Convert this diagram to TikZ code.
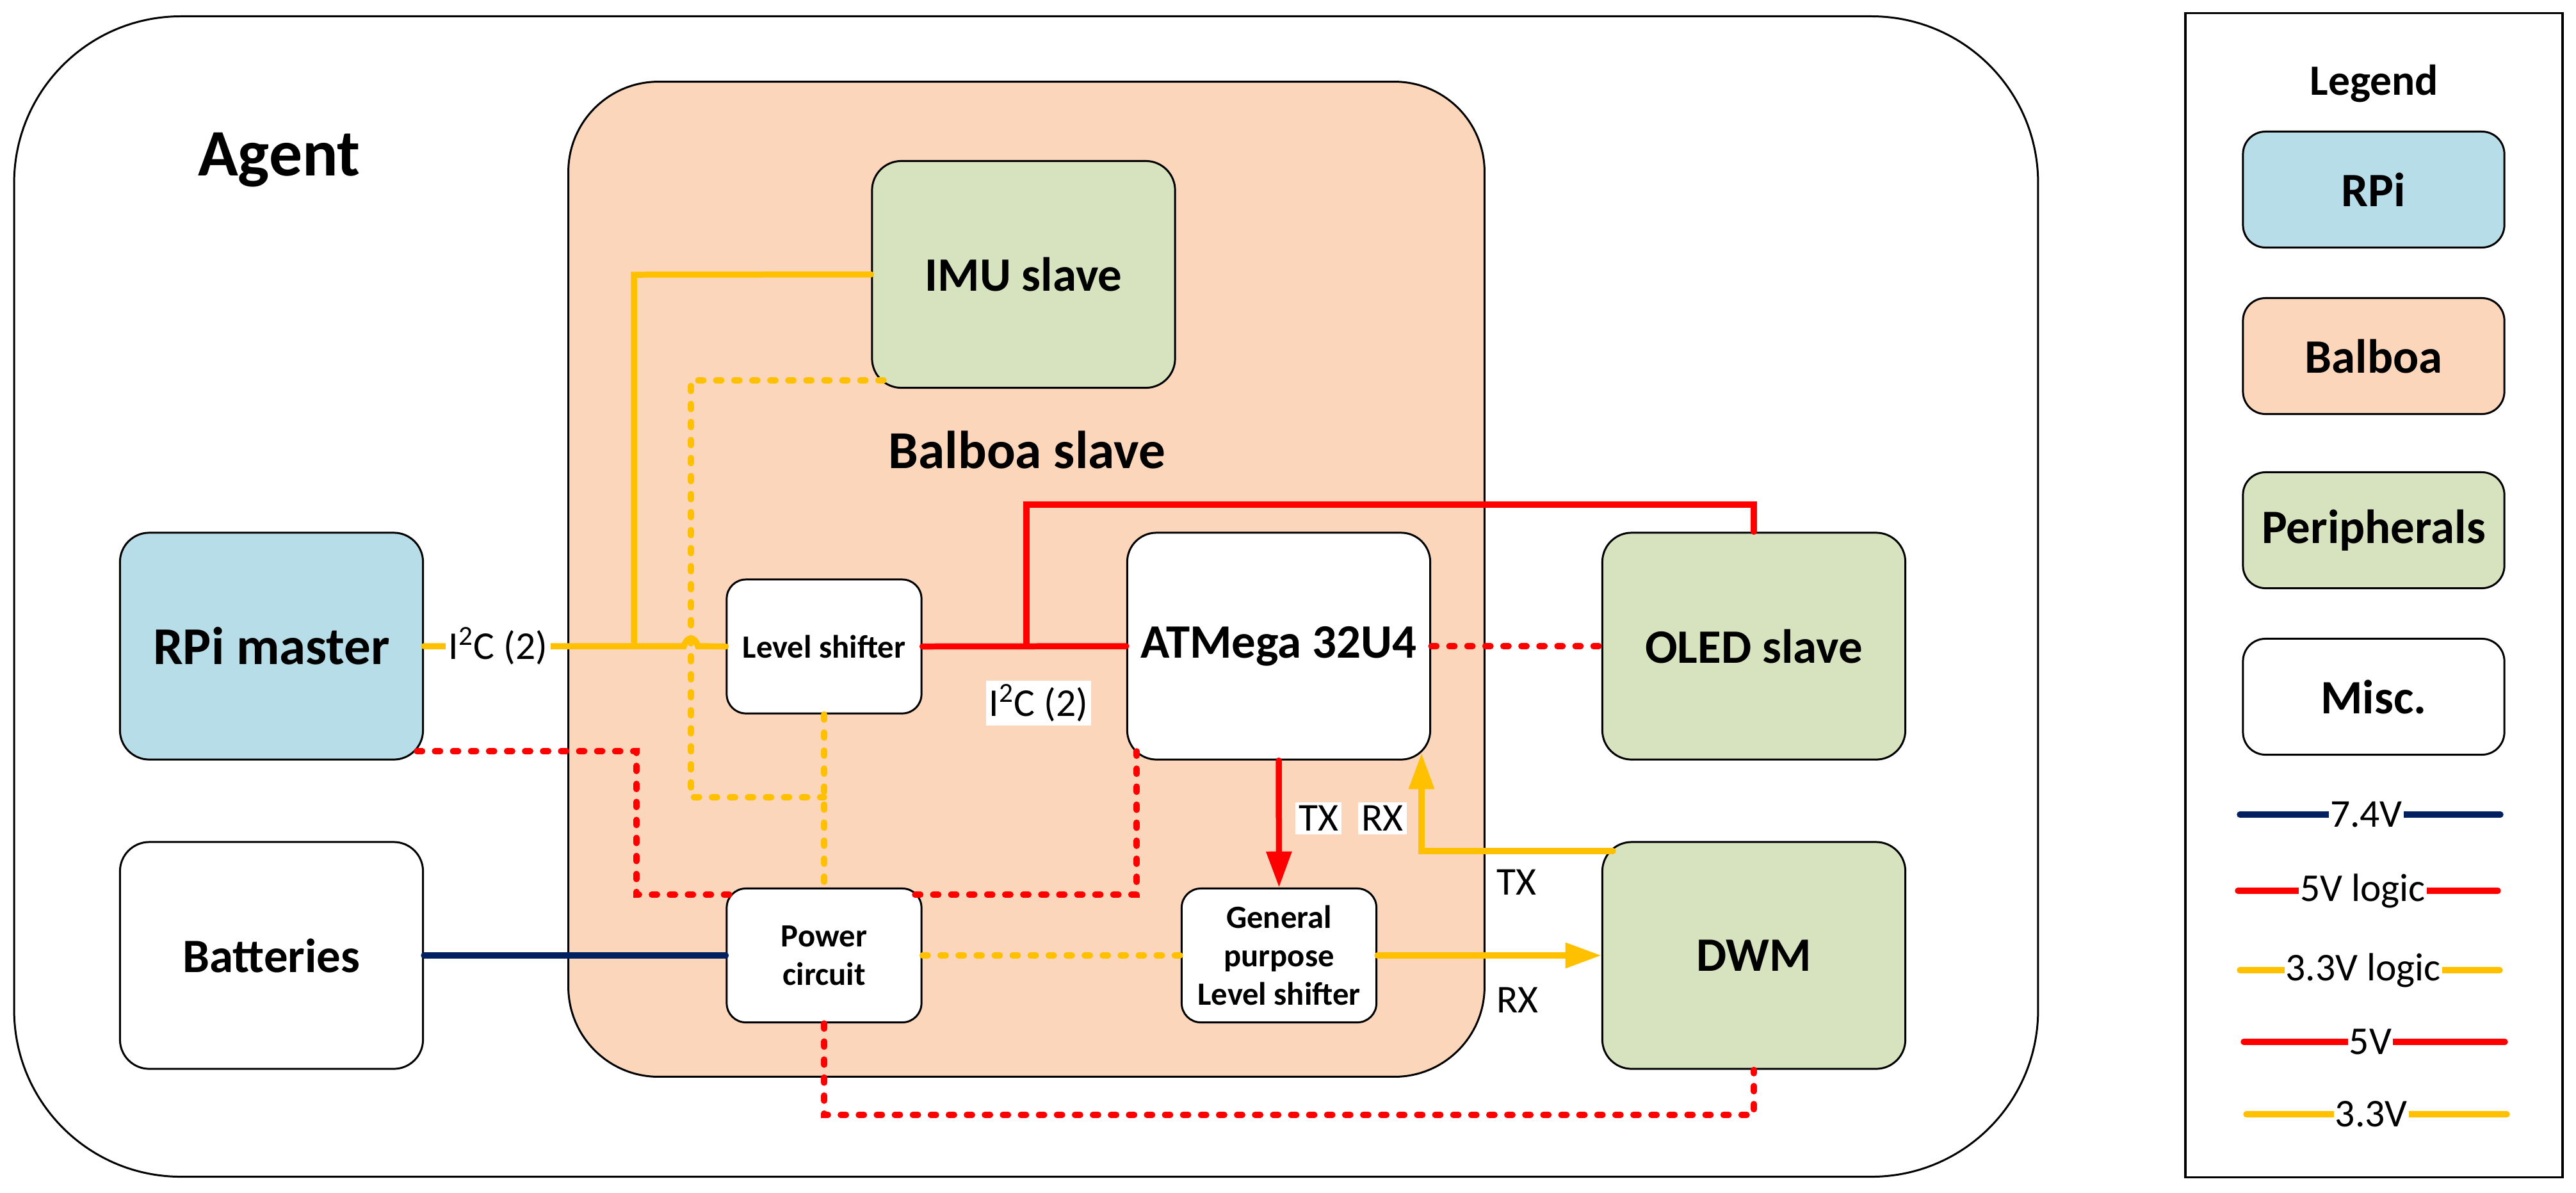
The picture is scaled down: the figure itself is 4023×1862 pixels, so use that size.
\documentclass[tikz,border=0pt]{standalone}
\usepackage{fontspec}
\setmainfont{Carlito}
\usetikzlibrary{arrows.meta}
\definecolor{rpiblue}{HTML}{B7DDE8}
\definecolor{balboaorange}{HTML}{FBD6BA}
\definecolor{periphgreen}{HTML}{D7E3BF}
\definecolor{gold33}{HTML}{FFC000}
\definecolor{red5}{HTML}{FF0000}
\definecolor{navy74}{HTML}{002060}
\tikzset{
  bigbox/.style   ={draw=black, line width=0.85pt, inner sep=0pt, minimum width=4.73cm, minimum height=3.54cm,
                    rounded corners=13pt, align=center, font=\fontsize{21.3}{25}\selectfont\bfseries},
  smallbox/.style ={draw=black, line width=0.85pt, fill=white, inner sep=0pt, minimum width=3.04cm, minimum height=2.09cm,
                    rounded corners=8.5pt, align=center, font=\fontsize{14.4}{17}\selectfont\bfseries},
  legendbox/.style={draw=black, line width=0.85pt, inner sep=0pt, minimum width=4.08cm, minimum height=1.81cm,
                    rounded corners=10pt, font=\fontsize{21.3}{25}\selectfont\bfseries},
  wiretext/.style ={fill=white, inner sep=1.5pt, font=\fontsize{17.5}{20}\selectfont},
  plaintext/.style={inner sep=0pt, font=\fontsize{17.5}{20}\selectfont},
  solid5/.style   ={draw=red5, line width=2.7pt, line cap=round},
  solid33/.style  ={draw=gold33, line width=2.7pt, line cap=round},
  solid74/.style  ={draw=navy74, line width=2.7pt, line cap=round},
  logic5/.style   ={solid5, dash pattern=on 2.4pt off 5.6pt},
  logic33/.style  ={solid33, dash pattern=on 2.4pt off 5.6pt},
  tipped/.style   ={-{Triangle[length=16pt,width=10.8pt]}}
}
\begin{document}
\begin{tikzpicture}[x=0.01cm, y=-0.01cm]
        \useasboundingbox (0,0) rectangle (4023,1862);
        % frames
        \node [draw=black, line width=0.85pt, minimum width=31.59cm, minimum height=18.11cm, rounded corners=74pt] (agent)  at (1602.5,931.5) {};
        \node [draw=black, line width=0.85pt, fill=balboaorange, minimum width=14.30cm, minimum height=15.53cm, rounded corners=40pt] (balboa) at (1603,904.5) {};
        \node [draw=black, line width=1.1pt, minimum width=5.89cm, minimum height=18.17cm] (legend) at (3707.5,929.5) {};
        \node [font=\fontsize{29.5}{32}\selectfont\bfseries] (agenttext)  at (436,250) {Agent};
        \node [font=\fontsize{23.7}{27}\selectfont\bfseries] (balboatext) at (1604,703) {Balboa slave};
        % blocks
        \node [bigbox, fill=rpiblue, font=\fontsize{23.6}{27}\selectfont\bfseries] (rpi) at (424,1009) {RPi master};
        \node [bigbox, fill=white]        (batt)     at (424,1492)    {Batteries};
        \node [bigbox, fill=periphgreen]  (imu)      at (1598.5,428.5) {IMU slave};
        \node [bigbox, fill=white]        (atmega)   at (1997,1009)   {ATMega 32U4};
        \node [bigbox, fill=periphgreen]  (oled)     at (2739,1009)   {OLED slave};
        \node [bigbox, fill=periphgreen]  (dwm)      at (2739,1492)   {DWM};
        \node [smallbox]                  (shifter)  at (1287,1009.5) {Level shifter};
        \node [smallbox]                  (power)    at (1287,1492)   {Power\\circuit};
        \node [smallbox]                  (general)  at (1997.5,1492) {General\\purpose\\Level shifter};
        % free ends on the rounded corners
        \coordinate (rpicorner)   at (651,1173);
        \coordinate (atmcorner)   at (1775,1173);
        \coordinate (atmrx)       at (2220,1176);
        \coordinate (dwmcorner)   at (2519,1329);
        \coordinate (imucorner)   at (1380,594);
        \coordinate (powerleft)   at (1143,1397);
        \coordinate (powerright)  at (1429,1397);
        % wires
        \draw [solid33] (rpi.east) -- (1068,1009) .. controls (1073,993) and (1085,993) .. (1090,1009) -- (shifter.west);  %I2C to shifter
        \draw [solid33] (990,1009) -- (990,429) -- (imu.west);                     %I2C to IMU
        \draw [solid5]  (shifter.east) -- (atmega.west);                           %
        \draw [solid5]  (1603,1009) -- (1603,788) -- (2739,788) -- (oled.north);   %
        \draw [logic33] (imucorner) -- (1079,594) -- (1079,1245) -- (1287,1245);   %
        \draw [logic33] (shifter.south) -- (power.north);                          %
        \draw [logic5]  (rpicorner) -- (994,1173) -- (994,1397) -- (powerleft);    %
        \draw [logic5]  (powerright) -- (1775,1397) -- (atmcorner);                %
        \draw [logic5]  (atmega.east) -- (oled.west);                              %
        \draw [logic5]  (power.south) -- (1287,1741) -- (2739,1741) -- (dwm.south); %
        \draw [solid74] (batt.east) -- (power.west);                               %
        \draw [logic33] (power.east) -- (general.west);                            %
        \draw [solid33, tipped] (general.east) -- (dwm.west);                      %
        \draw [solid5, tipped]  (atmega.south) -- (general.north);                 %
        \draw [solid33, tipped] (dwmcorner) -- (2220,1329) -- (atmrx);             %
        % wire labels
        \node [wiretext] (i2cleft)  at (778,1009)  {I\textsuperscript{2}C (2)};
        \node [wiretext] (i2cright) at (1622,1098) {I\textsuperscript{2}C (2)};
        \node [wiretext] (txup)     at (2059,1278) {TX};
        \node [wiretext] (rxup)     at (2159,1278) {RX};
        \node [plaintext] (txdown)  at (2368,1378) {TX};
        \node [plaintext] (rxdown)  at (2370,1562) {RX};
        % legend
        \node [font=\fontsize{19.2}{22}\selectfont\bfseries] (legendtext) at (3708,131) {Legend};
        \node [legendbox, fill=rpiblue]      (legrpi)    at (3707,296)  {RPi};
        \node [legendbox, fill=balboaorange] (legbalboa) at (3707,556)  {Balboa};
        \node [legendbox, fill=periphgreen]  (legperiph) at (3707,828)  {Peripherals};
        \node [legendbox, fill=white]        (legmisc)   at (3707,1088) {Misc.};
        \coordinate (a74) at (3498,1272);  \coordinate (b74) at (3905,1272);
        \coordinate (a5l) at (3495,1391);  \coordinate (b5l) at (3901,1391);
        \coordinate (a3l) at (3498,1515);  \coordinate (b3l) at (3904,1515);
        \coordinate (a5)  at (3504,1627);  \coordinate (b5)  at (3912,1627);
        \coordinate (a3)  at (3508,1740);  \coordinate (b3)  at (3915,1740);
        \draw [solid74] (a74) -- node [wiretext, pos=0.485, inner xsep=0.5pt, inner ysep=0pt] (leg74) {7.4V}      (b74);
        \draw [solid5]  (a5l) -- node [wiretext, pos=0.48, inner xsep=0.5pt, inner ysep=0pt]  (leg5l) {5V logic}  (b5l);
        \draw [solid33] (a3l) -- node [wiretext, pos=0.475, inner xsep=0.5pt, inner ysep=0pt] (leg3l) {3.3V logic} (b3l);
        \draw [solid5]  (a5)  -- node [wiretext, pos=0.485, inner xsep=0.5pt, inner ysep=0pt] (leg5)  {5V}        (b5);
        \draw [solid33] (a3)  -- node [wiretext, pos=0.48, inner xsep=0.5pt, inner ysep=0pt]  (leg3)  {3.3V}      (b3);
\end{tikzpicture}
\end{document}
